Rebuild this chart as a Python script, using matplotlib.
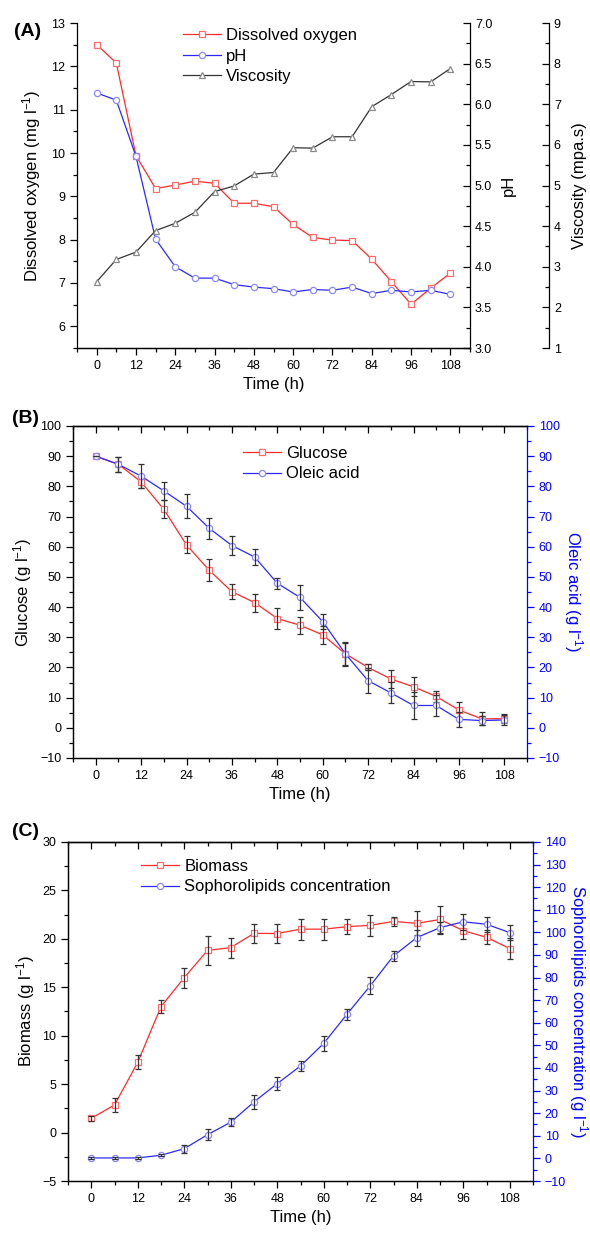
import numpy as np
import matplotlib
matplotlib.use('Agg')
import matplotlib.pyplot as plt
from matplotlib.ticker import MultipleLocator

plt.rcParams['font.family'] = ['Liberation Sans', 'DejaVu Sans']
plt.rcParams['mathtext.fontset'] = 'custom'
plt.rcParams['mathtext.rm'] = 'Liberation Sans'
plt.rcParams['mathtext.default'] = 'regular'
plt.rcParams['axes.linewidth'] = 0.9

# time points (h)
time = [0, 6, 12, 18, 24, 30, 36, 42, 48, 54, 60, 66, 72, 78, 84, 90, 96, 102, 108]

# panel A
dissolved_oxygen = [12.5, 12.08, 9.94, 9.18, 9.26, 9.35, 9.3, 8.84, 8.84, 8.76, 8.35,
                    8.05, 7.99, 7.98, 7.55, 7.03, 6.51, 6.88, 7.23]
ph = [6.14, 6.05, 5.36, 4.34, 4.0, 3.86, 3.86, 3.78, 3.75, 3.73, 3.69,
      3.72, 3.71, 3.75, 3.67, 3.71, 3.69, 3.71, 3.66]
viscosity = [2.63, 3.18, 3.36, 3.89, 4.07, 4.34, 4.85, 4.99, 5.28, 5.32, 5.93,
             5.92, 6.2, 6.2, 6.94, 7.24, 7.56, 7.55, 7.88]

# panel B
glucose = [90, 87.3, 81.5, 72.4, 60.6, 52.2, 45.1, 41.5, 36.2, 34.0, 30.8,
           24.5, 20.0, 16.2, 13.6, 10.4, 5.9, 3.0, 3.0]
glucose_err = [0, 2.5, 2, 3, 2.8, 3.7, 2.4, 3, 3.6, 2.8, 3,
               3.6, 1, 2.9, 3.2, 1.7, 2.5, 2.1, 1.5]
oleic = [90, 87.3, 83.4, 78.5, 73.4, 66.1, 60.4, 56.6, 47.9, 43.2, 35.2,
         24.5, 15.6, 11.6, 7.4, 7.4, 2.8, 2.4, 2.6]
oleic_err = [0, 2.5, 4, 3, 4, 3.4, 3.2, 2.8, 1.8, 4.2, 2.5,
             3.9, 4.2, 3.5, 4.4, 3.6, 2.6, 1.4, 1.7]

# panel C
biomass = [1.47, 2.85, 7.25, 13.0, 16.0, 18.8, 19.1, 20.57, 20.55, 21.0, 21.0,
           21.26, 21.4, 21.8, 21.6, 22.0, 20.85, 20.16, 19.0]
biomass_err = [0.28, 0.77, 0.72, 0.69, 1.03, 1.46, 1.03, 0.96, 1.0, 1.1, 1.1,
               0.77, 1.1, 0.5, 1.25, 1.4, 0.84, 0.74, 1.07]
sophorolipids = [0.2, 0.2, 0.2, 1.4, 4.3, 10.5, 16.0, 25.0, 33.1, 40.9, 50.9,
                 63.8, 76.4, 89.6, 97.7, 102.1, 104.7, 103.6, 99.9]
sophorolipids_err = [0.3, 0.3, 0.3, 0.5, 1.8, 2.4, 1.8, 3, 3, 2.4, 3.2,
                     2.4, 3.7, 2.1, 3.5, 2.6, 3.5, 3.3, 3.2]

RED = '#ff2a2a'
RED_M = '#ff6a6a'
BLUE = '#2a2aff'
BLUE_M = '#8a8aff'
GREY = '#333333'
GREY_M = '#8a8a8a'
ERR = '#333333'

fig = plt.figure(figsize=(5.9, 12.34), dpi=100)
W, H = 590, 1234


def box(l, t, r, b):
    return [l / W, 1 - b / H, (r - l) / W, (b - t) / H]


def style_x(ax):
    ax.set_xlim(-6, 114)
    ax.set_xticks(range(0, 109, 12))
    ax.xaxis.set_minor_locator(MultipleLocator(6))
    ax.tick_params(axis='x', which='major', length=5, width=0.9, labelsize=9, direction='out')
    ax.tick_params(axis='x', which='minor', length=3, width=0.9, direction='out')
    ax.set_xlabel('Time (h)', fontsize=12)


mk = dict(markersize=4.5, markerfacecolor='white', markeredgewidth=0.9, linewidth=0.9)
leg_kw = dict(frameon=False, fontsize=12, handlelength=2.3, handletextpad=0.3,
              labelspacing=0.33, borderaxespad=0, borderpad=0)

# ---------------- (A) ----------------
axA = fig.add_axes(box(77, 23, 470, 348))
axA2 = axA.twinx()
axA3 = axA.twinx()
axA3.spines['right'].set_position(('axes', 1.201))
for a in (axA, axA2, axA3):
    a.spines['top'].set_visible(False)
axA.spines['right'].set_visible(False)
for a in (axA2, axA3):
    a.spines['left'].set_visible(False)
axA3.spines['bottom'].set_visible(False)

l1, = axA.plot(time, dissolved_oxygen, color=RED, marker='s', markeredgecolor=RED_M,
               label='Dissolved oxygen', **mk)
l2, = axA2.plot(time, ph, color=BLUE, marker='o', markeredgecolor=BLUE_M, label='pH', **mk)
l3, = axA3.plot(time, viscosity, color=GREY, marker='^', markeredgecolor=GREY_M,
                label='Viscosity', **mk)

style_x(axA)
axA.set_ylim(5.5, 13)
axA.set_yticks(range(6, 14))
axA.yaxis.set_minor_locator(MultipleLocator(0.5))
axA.tick_params(axis='y', which='major', length=5, width=0.9, labelsize=9)
axA.tick_params(axis='y', which='minor', length=3, width=0.9)
axA.set_ylabel('Dissolved oxygen (mg l$^{-1}$)', fontsize=12, labelpad=6)

axA2.set_ylim(3.0, 7.0)
axA2.set_yticks(np.arange(3.0, 7.01, 0.5))
axA2.set_yticklabels([f'{v:.1f}' for v in np.arange(3.0, 7.01, 0.5)])
axA2.yaxis.set_minor_locator(MultipleLocator(0.25))
axA2.tick_params(axis='y', which='major', direction='in', length=5, width=0.9, labelsize=9)
axA2.tick_params(axis='y', which='minor', direction='in', length=3, width=0.9)
axA2.set_ylabel('pH', fontsize=12, rotation=90, labelpad=6)

axA3.set_ylim(1, 9)
axA3.set_yticks(range(1, 10))
axA3.yaxis.set_minor_locator(MultipleLocator(0.5))
axA3.tick_params(axis='y', which='major', direction='in', length=5, width=0.9, labelsize=9)
axA3.tick_params(axis='y', which='minor', direction='in', length=3, width=0.9)
axA3.set_ylabel('Viscosity (mpa.s)', fontsize=12, rotation=90, labelpad=8)

axA.legend(handles=[l1, l2, l3], loc='upper left', bbox_to_anchor=(183 / W, 1 - 28 / H),
           bbox_transform=fig.transFigure, **leg_kw)
fig.text(14 / W, 1 - 32 / H, '(A)', fontsize=14, fontweight='bold', va='center')


def dual_panel(l, t, r, b, y1, e1, y2, e2, lim1, lim2, step1, step2, minor1, minor2,
               lab1, lab2, names, leg_xy, tag, tag_y, pad2):
    ax = fig.add_axes(box(l, t, r, b))
    ax2 = ax.twinx()
    ax.spines['right'].set_visible(False)
    ax.errorbar(time, y1, yerr=e1, fmt='none', ecolor=ERR, elinewidth=0.9, capsize=2.5,
                capthick=0.9, zorder=3)
    h1, = ax.plot(time, y1, color=RED, marker='s', markeredgecolor=RED_M, label=names[0],
                  zorder=2, **mk)
    ax2.errorbar(time, y2, yerr=e2, fmt='none', ecolor=ERR, elinewidth=0.9, capsize=2.5,
                 capthick=0.9, zorder=3)
    h2, = ax2.plot(time, y2, color=BLUE, marker='o', markeredgecolor=BLUE_M, label=names[1],
                   zorder=2, **mk)
    style_x(ax)
    top = ax.secondary_xaxis('top')
    top.set_xticks(range(0, 109, 12))
    top.xaxis.set_minor_locator(MultipleLocator(6))
    top.tick_params(axis='x', which='both', direction='in', labeltop=False, width=0.9)
    top.tick_params(axis='x', which='major', length=5)
    top.tick_params(axis='x', which='minor', length=3)

    ax.set_ylim(*lim1)
    ax.set_yticks(np.arange(lim1[0], lim1[1] + 0.01, step1))
    ax.yaxis.set_minor_locator(MultipleLocator(minor1))
    ax.tick_params(axis='y', which='major', length=5, width=0.9, labelsize=9)
    ax.tick_params(axis='y', which='minor', length=3, width=0.9)
    ax.set_ylabel(lab1, fontsize=12, labelpad=4)

    ax2.set_ylim(*lim2)
    ax2.set_yticks(np.arange(lim2[0], lim2[1] + 0.01, step2))
    ax2.yaxis.set_minor_locator(MultipleLocator(minor2))
    ax2.spines['right'].set_color('blue')
    ax2.tick_params(axis='y', which='major', length=5, width=0.9, labelsize=9,
                    colors='blue')
    ax2.tick_params(axis='y', which='minor', length=3, width=0.9, colors='blue')
    ax2.set_ylabel(lab2, fontsize=12, color='blue', rotation=270, labelpad=pad2)

    ax.legend(handles=[h1, h2], loc='upper left', bbox_to_anchor=(leg_xy[0] / W, 1 - leg_xy[1] / H),
              bbox_transform=fig.transFigure, **leg_kw)
    fig.text(12 / W, 1 - tag_y / H, tag, fontsize=14, fontweight='bold', va='center')


# ---------------- (B) ----------------
dual_panel(73, 426, 527, 758, glucose, glucose_err, oleic, oleic_err,
           (-10, 100), (-10, 100), 10, 10, 5, 5,
           'Glucose (g l$^{-1}$)', 'Oleic acid (g l$^{-1}$)',
           ['Glucose', 'Oleic acid'], (243, 446), '(B)', 418, 18)

# ---------------- (C) ----------------
dual_panel(68, 842, 533, 1181, biomass, biomass_err, sophorolipids, sophorolipids_err,
           (-5, 30), (-10, 140), 5, 10, 2.5, 5,
           'Biomass (g l$^{-1}$)', 'Sophorolipids concentration (g l$^{-1}$)',
           ['Biomass', 'Sophorolipids concentration'], (141, 859), '(C)', 832, 17)

fig.savefig('out.png', dpi=100)
